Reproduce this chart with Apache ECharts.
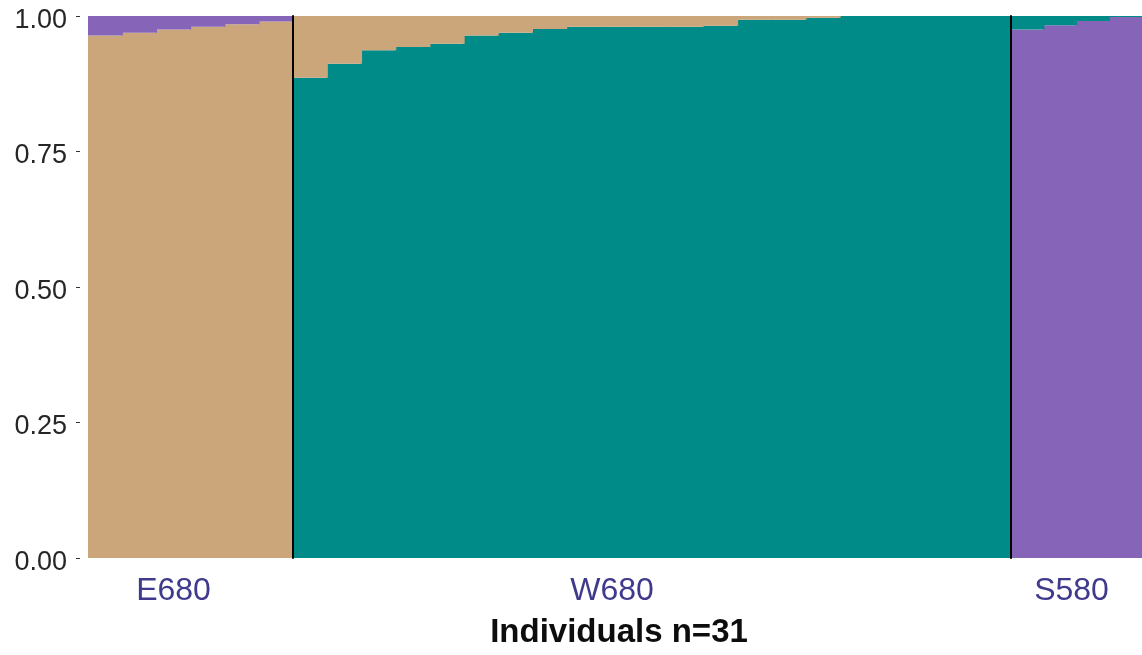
<!DOCTYPE html>
<html>
<head>
<meta charset="utf-8">
<script src="https://cdn.jsdelivr.net/npm/echarts@6/dist/echarts.min.js"></script>
<style>
  html, body { margin: 0; padding: 0; background: #fff; }
  #chart { width: 1142px; height: 655px; }
</style>
</head>
<body>
<div id="chart"></div>
<script>
// ---- data ----
const groupNames = ['E680', 'W680', 'S580'];
const groupSizes = [6, 21, 4];
const individuals = [
  'E680_1','E680_2','E680_3','E680_4','E680_5','E680_6',
  'W680_1','W680_2','W680_3','W680_4','W680_5','W680_6','W680_7','W680_8','W680_9','W680_10',
  'W680_11','W680_12','W680_13','W680_14','W680_15','W680_16','W680_17','W680_18','W680_19','W680_20','W680_21',
  'S580_1','S580_2','S580_3','S580_4'
];
// ancestry proportions per cluster, one value per individual
const clusterTan = [
  0.964, 0.969, 0.975, 0.980, 0.985, 0.990,
  0.114, 0.088, 0.063, 0.057, 0.051, 0.036, 0.031, 0.024, 0.020, 0.020,
  0.020, 0.020, 0.018, 0.007, 0.007, 0.003, 0.000, 0.000, 0.000, 0.000, 0.000,
  0.000, 0.000, 0.000, 0.000
];
const clusterTeal = [
  0.000, 0.000, 0.000, 0.000, 0.000, 0.000,
  0.886, 0.912, 0.937, 0.943, 0.949, 0.964, 0.969, 0.976, 0.980, 0.980,
  0.980, 0.980, 0.982, 0.993, 0.993, 0.997, 1.000, 1.000, 1.000, 1.000, 1.000,
  0.025, 0.017, 0.009, 0.002
];
const clusterPurple = [
  0.036, 0.031, 0.025, 0.020, 0.015, 0.010,
  0.000, 0.000, 0.000, 0.000, 0.000, 0.000, 0.000, 0.000, 0.000, 0.000,
  0.000, 0.000, 0.000, 0.000, 0.000, 0.000, 0.000, 0.000, 0.000, 0.000, 0.000,
  0.975, 0.983, 0.991, 0.998
];
const yTicks = [0, 0.25, 0.5, 0.75, 1];
const xTitle = 'Individuals n=31';

// ---- styling / layout ----
const clusters = {
  tan:    { data: clusterTan,    color: '#CCA67B' },
  teal:   { data: clusterTeal,   color: '#008B89' },
  purple: { data: clusterPurple, color: '#8665B9' }
};
const stackOrder = [
  ['tan', 'purple', 'teal'],
  ['teal', 'tan', 'purple'],
  ['purple', 'teal', 'tan']
];
const gridBoxes = [
  { left: 88,   width: 205 },
  { left: 293,  width: 718 },
  { left: 1011, width: 137 }
];
const labelShift = [34, 80, 10];
const plotTop = 16, plotHeight = 542;
const labelColor = '#3F3A8C';
const fontFam = 'Liberation Sans, Arial, sans-serif';

const grids = [], xAxes = [], yAxes = [], series = [];
let start = 0;
groupNames.forEach((g, gi) => {
  const n = groupSizes[gi];
  const cats = individuals.slice(start, start + n);
  grids.push({ left: gridBoxes[gi].left, width: gridBoxes[gi].width, top: plotTop, height: plotHeight });
  xAxes.push({
    type: 'category', gridIndex: gi, data: cats,
    axisLine: { show: false }, axisTick: { show: false }, axisLabel: { show: false },
    splitLine: { show: false },
    name: g, nameLocation: 'middle', nameGap: 17,
    nameTextStyle: { color: labelColor, fontSize: 32, fontFamily: fontFam,
                     padding: [0, labelShift[gi], 0, 0] }
  });
  if (gi === 0) {
    yAxes.push({
      type: 'value', gridIndex: gi, min: yTicks[0], max: yTicks[yTicks.length - 1],
      interval: yTicks[1] - yTicks[0], offset: 8,
      axisLine: { show: false },
      axisTick: { show: true, length: 4, lineStyle: { color: '#333', width: 1 } },
      axisLabel: {
        margin: 13, color: '#262626',
        formatter: v => '{t|' + v.toFixed(2) + '}',
        rich: { t: { fontSize: 27, color: '#262626', fontFamily: fontFam, padding: [9, 0, 0, 0] } }
      },
      splitLine: { show: false }
    });
  } else {
    yAxes.push({
      type: 'value', gridIndex: gi, min: 0, max: 1, z: 10,
      axisLine: { show: true, lineStyle: { color: '#000', width: 2 } },
      axisTick: { show: false }, axisLabel: { show: false }, splitLine: { show: false }
    });
  }
  stackOrder[gi].forEach(k => {
    series.push({
      type: 'bar', name: k, xAxisIndex: gi, yAxisIndex: gi, stack: 'g' + gi,
      data: clusters[k].data.slice(start, start + n),
      barWidth: '104%', barGap: '-100%',
      itemStyle: { color: clusters[k].color, borderWidth: 0 },
      emphasis: { disabled: true }
    });
  });
  start += n;
});

const chart = echarts.init(document.getElementById('chart'), null, { renderer: 'canvas' });
chart.setOption({
  animation: false,
  backgroundColor: '#fff',
  title: {
    text: xTitle, left: 614, top: 611, textAlign: 'center',
    textStyle: { fontSize: 33, fontWeight: 'bold', color: '#0d0d0d', fontFamily: fontFam }
  },
  grid: grids,
  xAxis: xAxes,
  yAxis: yAxes,
  series: series
});
</script>
</body>
</html>
